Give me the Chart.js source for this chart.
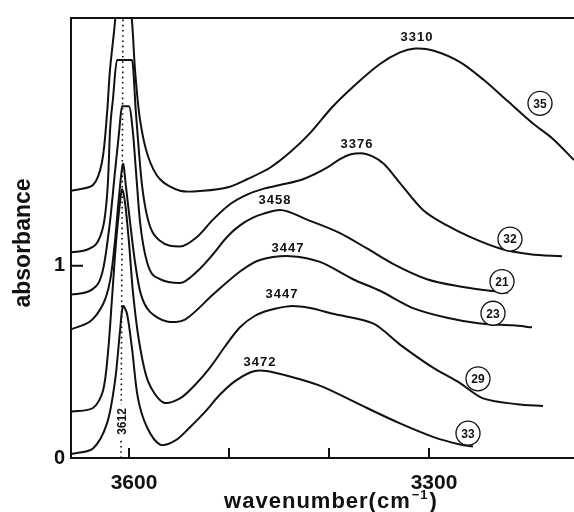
<!DOCTYPE html>
<html>
<head>
<meta charset="utf-8">
<script src="https://cdn.jsdelivr.net/npm/chart.js@4.4.1/dist/chart.umd.min.js"></script>
<style>
  html, body { margin: 0; padding: 0; background: #fff; }
  #wrap { width: 574px; height: 512px; }
</style>
</head>
<body>
<div id="wrap"><canvas id="grafico"></canvas></div>
<script>
// curvas (numero de onda em cm-1, absorbancia)
var wn35 = [3658, 3636, 3627, 3622, 3619, 3614, 3607, 3597, 3594, 3589, 3581, 3569, 3549, 3526, 3500, 3482, 3459, 3439, 3419, 3396, 3372, 3349, 3329, 3314, 3296, 3269, 3246, 3222, 3196, 3176, 3155];
var ab35 = [1.39, 1.42, 1.54, 1.79, 2.02, 2.27, 2.75, 2.27, 2.02, 1.76, 1.57, 1.45, 1.39, 1.39, 1.41, 1.45, 1.51, 1.59, 1.69, 1.83, 1.95, 2.05, 2.11, 2.13, 2.12, 2.06, 1.97, 1.86, 1.74, 1.66, 1.55];

var wn32 = [3658, 3639, 3629, 3624, 3621, 3619, 3616, 3612, 3597, 3593, 3590, 3587, 3581, 3569, 3549, 3532, 3516, 3499, 3482, 3466, 3449, 3426, 3402, 3389, 3378, 3368, 3357, 3345, 3329, 3306, 3282, 3259, 3229, 3199, 3167];
var ab32 = [1.07, 1.09, 1.15, 1.26, 1.44, 1.70, 1.87, 2.07, 2.07, 1.79, 1.59, 1.42, 1.24, 1.13, 1.10, 1.15, 1.24, 1.32, 1.37, 1.40, 1.42, 1.45, 1.51, 1.555, 1.58, 1.585, 1.57, 1.53, 1.43, 1.29, 1.21, 1.15, 1.09, 1.06, 1.05];

var wn21 = [3658, 3636, 3626, 3619, 3614, 3610, 3607, 3600, 3596, 3593, 3589, 3582, 3569, 3549, 3532, 3516, 3502, 3489, 3476, 3466, 3449, 3422, 3389, 3362, 3336, 3302, 3266, 3239, 3221];
var ab21 = [0.85, 0.88, 0.98, 1.23, 1.49, 1.69, 1.83, 1.83, 1.69, 1.49, 1.23, 1.02, 0.93, 0.91, 0.97, 1.06, 1.15, 1.21, 1.25, 1.27, 1.29, 1.24, 1.17, 1.09, 1.01, 0.93, 0.89, 0.87, 0.86];

var wn23 = [3658, 3639, 3626, 3619, 3614, 3610, 3606, 3603, 3599, 3594, 3588, 3579, 3562, 3544, 3516, 3489, 3469, 3439, 3409, 3376, 3349, 3316, 3282, 3249, 3216, 3197];
var ab23 = [0.67, 0.71, 0.80, 0.92, 1.13, 1.36, 1.53, 1.41, 1.23, 1.02, 0.85, 0.76, 0.71, 0.72, 0.85, 0.97, 1.03, 1.05, 1.02, 0.93, 0.87, 0.78, 0.73, 0.70, 0.69, 0.68];

var wn29 = [3658, 3636, 3626, 3621, 3617, 3613, 3609, 3607, 3604, 3600, 3596, 3590, 3581, 3566, 3549, 3534, 3519, 3504, 3489, 3474, 3459, 3439, 3419, 3396, 3356, 3329, 3296, 3269, 3246, 3212, 3186];
var ab29 = [0.24, 0.26, 0.35, 0.55, 0.83, 1.12, 1.33, 1.40, 1.33, 1.12, 0.86, 0.61, 0.40, 0.29, 0.31, 0.38, 0.47, 0.58, 0.68, 0.74, 0.77, 0.79, 0.78, 0.75, 0.70, 0.59, 0.47, 0.39, 0.31, 0.28, 0.27];

var wn33 = [3658, 3636, 3622, 3614, 3609, 3606, 3602, 3597, 3591, 3582, 3569, 3554, 3539, 3524, 3509, 3494, 3479, 3469, 3455, 3429, 3406, 3362, 3329, 3296, 3269, 3256];
var ab33 = [0.02, 0.05, 0.18, 0.40, 0.66, 0.79, 0.75, 0.57, 0.31, 0.16, 0.07, 0.09, 0.16, 0.24, 0.33, 0.40, 0.445, 0.455, 0.445, 0.41, 0.37, 0.26, 0.18, 0.11, 0.07, 0.06];

// linha pontilhada do pico 3612
var refWn = [3608, 3606];
var refAb = [0, 2.3];

// marcas dos eixos
var ticksX = [3600, 3500, 3400, 3300];
var labelsX = ['3600', '', '', '3300'];
var ticksY = [0, 1];
var labelsY = ['0', '1'];

// rotulos dos picos e numeros circulados
var picoTexto = ['3310', '3376', '3458', '3447', '3447', '3472'];
var picoWn = [3312, 3372, 3454, 3441, 3447, 3469];
var picoAb = [2.19, 1.63, 1.34, 1.09, 0.85, 0.495];
var circTexto = ['35', '32', '21', '23', '29', '33'];
var circWn = [3189, 3219, 3227, 3236, 3251, 3261];
var circAb = [1.845, 1.139, 0.918, 0.753, 0.412, 0.129];

var fonte = '"Liberation Sans", Arial, sans-serif';

function pontos(xs, ys) {
    var lista = [];
    for (var i = 0; i < xs.length; i++) lista.push({ x: xs[i], y: ys[i] });
    return lista;
}

// topo achatado fica melhor com monotone, o resto com tension
function curva(xs, ys, achatado) {
    var ds = {
        data: pontos(xs, ys),
        borderColor: '#111',
        borderWidth: 2,
        pointRadius: 0,
        fill: false
    };
    if (achatado) ds.cubicInterpolationMode = 'monotone';
    else ds.tension = 0.3;
    return ds;
}

var enfeites = {
    id: 'enfeites',
    afterDatasetsDraw: function(chart) {
        var ctx = chart.ctx;
        var area = chart.chartArea;
        var sx = chart.scales.x;
        var sy = chart.scales.y;
        ctx.save();
        ctx.strokeStyle = '#111';
        ctx.lineWidth = 2;

        // borda de cima
        ctx.beginPath();
        ctx.moveTo(area.left, area.top);
        ctx.lineTo(area.right, area.top);
        ctx.stroke();

        // tracinhos para dentro
        ctx.beginPath();
        ticksX.forEach(function(v) {
            var px = sx.getPixelForValue(v);
            ctx.moveTo(px, area.bottom);
            ctx.lineTo(px, area.bottom - 10);
        });
        ctx.moveTo(area.left, sy.getPixelForValue(1));
        ctx.lineTo(area.left + 12, sy.getPixelForValue(1));
        ctx.stroke();

        ctx.fillStyle = '#111';
        ctx.textAlign = 'center';
        ctx.textBaseline = 'middle';

        // rotulo 3612 na vertical
        ctx.save();
        ctx.translate(sx.getPixelForValue(3606), sy.getPixelForValue(0.19));
        ctx.rotate(-Math.PI / 2);
        ctx.fillStyle = '#fff';
        ctx.fillRect(-17, -6, 34, 12);
        ctx.fillStyle = '#111';
        ctx.font = 'bold 12px ' + fonte;
        ctx.fillText('3612', 0, 0);
        ctx.restore();

        // valores dos picos
        ctx.font = 'bold 13px ' + fonte;
        ctx.letterSpacing = '1px';
        for (var i = 0; i < picoTexto.length; i++) {
            ctx.fillText(picoTexto[i], sx.getPixelForValue(picoWn[i]), sy.getPixelForValue(picoAb[i]));
        }

        // numeros nos circulos
        ctx.letterSpacing = '0px';
        ctx.font = 'bold 12px ' + fonte;
        ctx.lineWidth = 1.3;
        for (var j = 0; j < circTexto.length; j++) {
            var cx = sx.getPixelForValue(circWn[j]);
            var cy = sy.getPixelForValue(circAb[j]);
            ctx.beginPath();
            ctx.arc(cx, cy, 12, 0, Math.PI * 2);
            ctx.fillStyle = '#fff';
            ctx.fill();
            ctx.stroke();
            ctx.fillStyle = '#111';
            ctx.fillText(circTexto[j], cx, cy + 1);
        }

        // titulo do eixo y
        ctx.save();
        ctx.translate(24, 243);
        ctx.rotate(-Math.PI / 2);
        ctx.font = 'bold 23px ' + fonte;
        ctx.fillText('absorbance', 0, 0);
        ctx.restore();

        // titulo do eixo x com expoente
        var t1 = 'wavenumber(cm';
        var t2 = '\u22121';
        var t3 = ')';
        ctx.textAlign = 'left';
        ctx.textBaseline = 'alphabetic';
        ctx.letterSpacing = '1px';
        ctx.font = 'bold 22px ' + fonte;
        var w1 = ctx.measureText(t1).width;
        var w3 = ctx.measureText(t3).width;
        ctx.font = 'bold 13px ' + fonte;
        var w2 = ctx.measureText(t2).width;
        var x0 = 331 - (w1 + w2 + w3 + 2) / 2;
        var base = 508;
        ctx.font = 'bold 22px ' + fonte;
        ctx.fillText(t1, x0, base);
        ctx.font = 'bold 13px ' + fonte;
        ctx.fillText(t2, x0 + w1 + 1, base - 9);
        ctx.font = 'bold 22px ' + fonte;
        ctx.fillText(t3, x0 + w1 + w2 + 2, base);

        ctx.restore();
    }
};

var linhaRef = {
    data: pontos(refWn, refAb),
    borderColor: '#111',
    borderWidth: 1.6,
    borderDash: [1.6, 3.6],
    pointRadius: 0,
    fill: false
};

new Chart(document.getElementById('grafico'), {
    type: 'line',
    data: {
        datasets: [
            linhaRef,
            curva(wn35, ab35, false),
            curva(wn32, ab32, true),
            curva(wn21, ab21, true),
            curva(wn23, ab23, false),
            curva(wn29, ab29, false),
            curva(wn33, ab33, false)
        ]
    },
    options: {
        responsive: true,
        maintainAspectRatio: false,
        animation: false,
        layout: { padding: { top: 14, left: 0, right: 0, bottom: 0 } },
        plugins: { legend: { display: false }, tooltip: { enabled: false } },
        scales: {
            x: {
                type: 'linear',
                reverse: true,
                min: 3155,
                max: 3658,
                afterFit: function(s) { s.height = 54; },
                afterBuildTicks: function(s) { s.ticks = ticksX.map(function(v) { return { value: v }; }); },
                grid: { display: true, drawOnChartArea: false, drawTicks: false },
                border: { display: true, color: '#111', width: 2 },
                ticks: {
                    autoSkip: false,
                    maxRotation: 0,
                    padding: 13,
                    labelOffset: 5,
                    color: '#111',
                    font: { family: fonte, size: 21, weight: 'bold' },
                    callback: function(v) { return labelsX[ticksX.indexOf(v)]; }
                }
            },
            y: {
                min: 0,
                max: 2.289,
                afterFit: function(s) { s.width = 71; },
                afterBuildTicks: function(s) { s.ticks = ticksY.map(function(v) { return { value: v }; }); },
                grid: { display: true, drawOnChartArea: false, drawTicks: false },
                border: { display: true, color: '#111', width: 2 },
                ticks: {
                    padding: 6,
                    color: '#111',
                    font: { family: fonte, size: 20, weight: 'bold' },
                    callback: function(v) { return labelsY[ticksY.indexOf(v)]; }
                }
            }
        }
    },
    plugins: [enfeites]
});
</script>
</body>
</html>
